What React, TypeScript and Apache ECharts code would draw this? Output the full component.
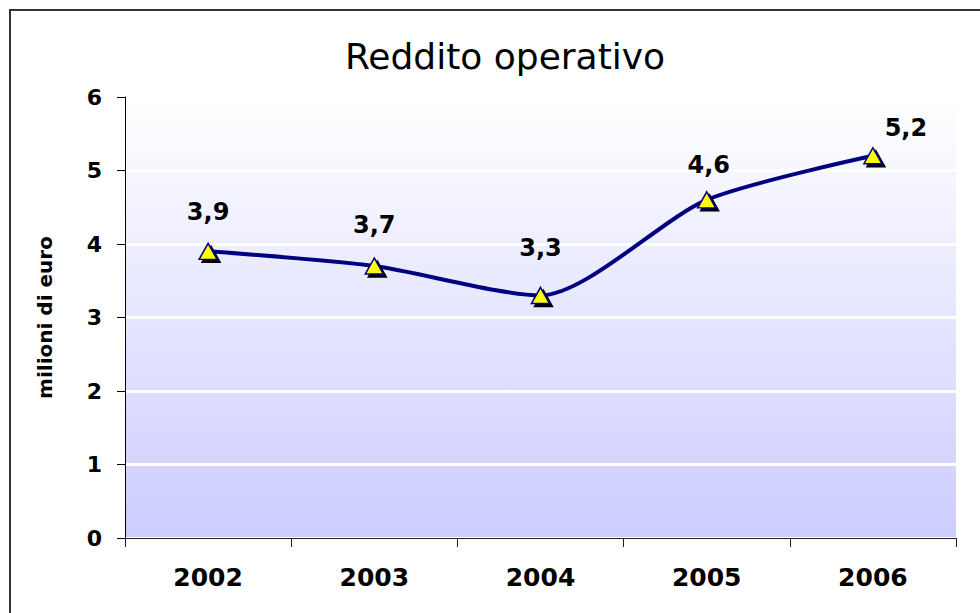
import React, { useEffect, useRef } from "react";
import * as echarts from "echarts";

const titleText = "Reddito operativo";
const yAxisName = "milioni di euro";
const categories = ["2002", "2003", "2004", "2005", "2006"];
const values = [3.9, 3.7, 3.3, 4.6, 5.2];
const yTicks = { min: 0, max: 6, interval: 1 };
// label offsets relative to each marker (style only)
const labelOffsets: [number, number][] = [
  [0, -39],
  [0, -41],
  [0, -47],
  [2, -35],
  [33, -28],
];

const FONT = 'Verdana, "DejaVu Sans", sans-serif';

export default function App() {
  const ref = useRef<HTMLDivElement>(null);
  useEffect(() => {
    if (!ref.current) return;
    const chart = echarts.init(ref.current, null, { renderer: "svg" });
    const data = values.map((v, i) => ({
      value: v,
      label: { offset: labelOffsets[i] },
    }));
    chart.setOption({
      animation: false,
      backgroundColor: "#ffffff",
      title: {
        text: titleText,
        left: 500,
        top: 33,
        textAlign: "center",
        textStyle: {
          fontFamily: FONT,
          fontSize: 36,
          fontWeight: "normal",
          color: "#000",
        },
      },
      graphic: [
        {
          type: "rect",
          shape: { x: 10, y: 10, width: 1000, height: 700 },
          style: { fill: "none", stroke: "#333", lineWidth: 2 },
          silent: true,
        },
      ],
      grid: {
        left: 125,
        top: 97,
        width: 831,
        height: 441,
        show: true,
        borderWidth: 0,
        backgroundColor: new echarts.graphic.LinearGradient(0, 0, 0, 1, [
          { offset: 0, color: "#ffffff" },
          { offset: 1, color: "#ccccff" },
        ]),
      },
      xAxis: {
        type: "category",
        data: categories,
        boundaryGap: true,
        axisLine: { lineStyle: { color: "#222", width: 1 } },
        axisTick: { show: true, length: 9, lineStyle: { color: "#222" }, alignWithLabel: false },
        axisLabel: {
          margin: 27,
          fontFamily: FONT,
          fontSize: 25,
          fontWeight: "bold",
          color: "#000",
        },
        splitLine: { show: false },
      },
      yAxis: {
        type: "value",
        min: yTicks.min,
        max: yTicks.max,
        interval: yTicks.interval,
        name: yAxisName,
        nameLocation: "middle",
        nameGap: 70,
        nameRotate: 90,
        nameTextStyle: {
          fontFamily: FONT,
          fontSize: 20,
          fontWeight: "bold",
          color: "#000",
        },
        axisLine: { show: true, lineStyle: { color: "#000", width: 1 } },
        axisTick: { show: true, inside: false, length: 8, lineStyle: { color: "#000" } },
        axisLabel: {
          margin: 23,
          fontFamily: FONT,
          fontSize: 22,
          fontWeight: "bold",
          color: "#000",
        },
        splitLine: { show: true, lineStyle: { color: "#ffffff", width: 3 } },
      },
      series: [
        {
          type: "line",
          data,
          smooth: 0.25,
          lineStyle: { color: "#000080", width: 4 },
          symbol: "triangle",
          symbolSize: [18, 16],
          itemStyle: {
            color: "#ffff00",
            borderColor: "#000080",
            borderWidth: 1.5,
            shadowColor: "#000",
            shadowOffsetX: 3,
            shadowOffsetY: 3,
            shadowBlur: 0,
          },
          label: {
            show: true,
            position: "inside",
            fontFamily: FONT,
            fontSize: 24,
            fontWeight: "bold",
            color: "#000",
            formatter: (p: any) => String(p.value).replace(".", ","),
          },
          z: 3,
        },
      ],
    });
    return () => chart.dispose();
  }, []);
  return (
    <div
      ref={ref}
      style={{ position: "absolute", left: 0, top: 0, width: 980, height: 613 }}
    />
  );
}
